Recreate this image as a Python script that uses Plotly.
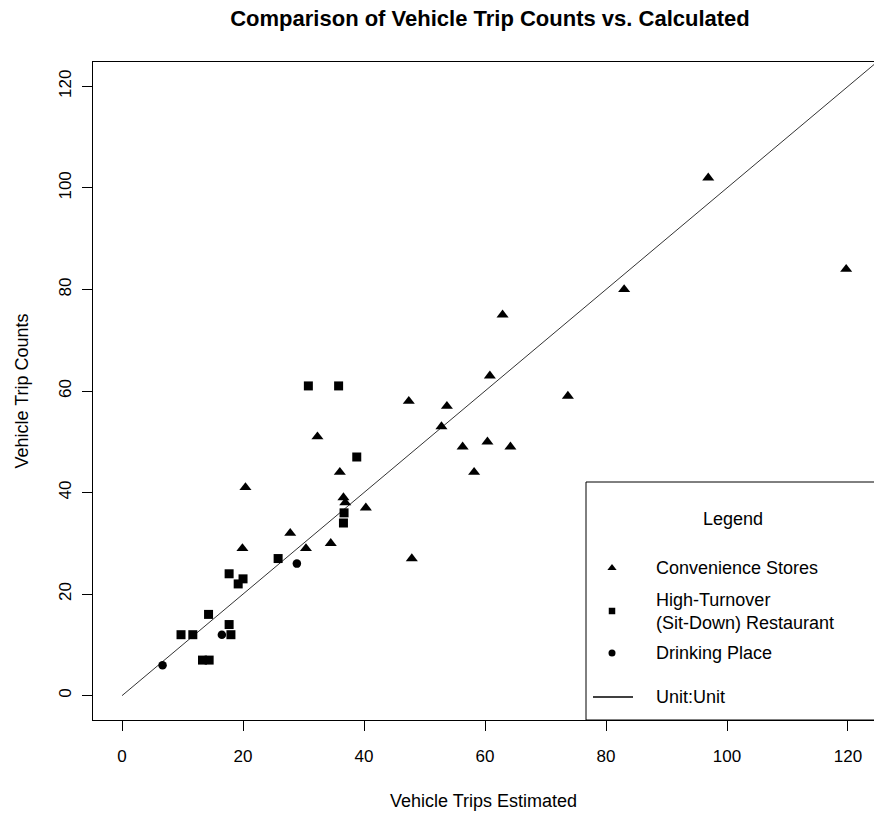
import plotly.graph_objects as go

# Convenience stores: estimated trips vs counted trips
conv_est = [96.9, 119.7, 83.0, 62.9, 60.8, 73.7, 47.4, 53.7, 52.8, 32.3, 56.3, 60.4,
            64.2, 58.2, 36.0, 20.4, 36.6, 36.9, 40.3, 27.8, 34.5, 30.4, 19.9, 47.9]
conv_cnt = [102, 84, 80, 75, 63, 59, 58, 57, 53, 51, 49, 50,
            49, 44, 44, 41, 39, 38, 37, 32, 30, 29, 29, 27]

# High-turnover (sit-down) restaurants
rest_est = [30.8, 35.8, 38.8, 36.7, 36.6, 25.8, 17.7, 20.0, 19.2, 14.3, 9.75, 11.7,
            17.7, 18.0, 13.3, 14.4]
rest_cnt = [61, 61, 47, 36, 34, 27, 24, 23, 22, 16, 12, 12,
            14, 12, 7, 7]

# Drinking places
drink_est = [6.7, 16.5, 28.9]
drink_cnt = [6, 12, 26]

# Unit:Unit reference line
unit_line = [0, 130]

legend_labels = ["Convenience Stores", "High-Turnover<br>(Sit-Down) Restaurant",
                 "Drinking Place", "Unit:Unit"]

FONT = "Liberation Sans, Arial, sans-serif"
W, H = 874, 814
L, R, T, B = 93, 0, 62, 94

fig = go.Figure()

fig.add_trace(go.Scatter(x=unit_line, y=unit_line, mode="lines",
                         line=dict(color="#333333", width=1), showlegend=False,
                         hoverinfo="skip"))
fig.add_trace(go.Scatter(x=conv_est, y=conv_cnt, mode="markers", name="Convenience Stores",
                         marker=dict(symbol="triangle-up", size=10.5, color="black"),
                         showlegend=False))
fig.add_trace(go.Scatter(x=rest_est, y=rest_cnt, mode="markers",
                         name="High-Turnover (Sit-Down) Restaurant",
                         marker=dict(symbol="square", size=9, color="black"),
                         showlegend=False))
fig.add_trace(go.Scatter(x=drink_est, y=drink_cnt, mode="markers", name="Drinking Place",
                         marker=dict(symbol="circle", size=8.5, color="black"),
                         showlegend=False))

# Legend panel drawn on a pixel-space overlay axis pair
leg_x_sym = 612
leg_x_txt = 654
leg_rows = [568, 611, 653, 697]
fig.add_shape(type="rect", xref="x2", yref="y2", x0=586, x1=890, y0=482, y1=720,
              line=dict(color="black", width=1), fillcolor="white", layer="below")
fig.add_trace(go.Scatter(x=[leg_x_sym], y=[leg_rows[0]], xaxis="x2", yaxis="y2",
                         mode="markers", marker=dict(symbol="triangle-up", size=8, color="black"),
                         showlegend=False, hoverinfo="skip", cliponaxis=False))
fig.add_trace(go.Scatter(x=[leg_x_sym], y=[leg_rows[1]], xaxis="x2", yaxis="y2",
                         mode="markers", marker=dict(symbol="square", size=6.5, color="black"),
                         showlegend=False, hoverinfo="skip", cliponaxis=False))
fig.add_trace(go.Scatter(x=[leg_x_sym], y=[leg_rows[2]], xaxis="x2", yaxis="y2",
                         mode="markers", marker=dict(symbol="circle", size=7, color="black"),
                         showlegend=False, hoverinfo="skip", cliponaxis=False))
fig.add_trace(go.Scatter(x=[593, 633], y=[leg_rows[3], leg_rows[3]], xaxis="x2", yaxis="y2",
                         mode="lines", line=dict(color="black", width=1.5),
                         showlegend=False, hoverinfo="skip", cliponaxis=False))

fig.add_annotation(x=733, y=519, xref="x2", yref="y2", text="Legend", showarrow=False,
                   xanchor="center", yanchor="middle", font=dict(family=FONT, size=18, color="black"))
for lab, yy in zip(legend_labels, leg_rows):
    fig.add_annotation(x=leg_x_txt, y=yy, xref="x2", yref="y2", text=lab, showarrow=False,
                       xanchor="left", yanchor="middle", align="left",
                       font=dict(family=FONT, size=18, color="black"))

fig.update_layout(
    width=W, height=H,
    margin=dict(l=L, r=R, t=T, b=B, pad=0),
    paper_bgcolor="white", plot_bgcolor="white",
    font=dict(family=FONT, size=18, color="black"),
    title=dict(text="<b>Comparison of Vehicle Trip Counts vs. Calculated</b>",
               x=490 / W, xref="container", xanchor="center",
               y=1 - 18 / H, yref="container", yanchor="middle",
               font=dict(family=FONT, size=22, color="black")),
    xaxis=dict(range=[-4.8, 124.3], tickvals=[0, 20, 40, 60, 80, 100, 120],
               showgrid=False, zeroline=False, showline=True, linecolor="black",
               linewidth=1, mirror=True, ticks="outside", ticklen=10, tickwidth=1,
               tickcolor="black", ticklabelstandoff=11,
               tickfont=dict(family=FONT, size=17, color="black"),
               title=dict(text="Vehicle Trips Estimated", standoff=28,
                          font=dict(family=FONT, size=18, color="black"))),
    yaxis=dict(range=[-4.8, 124.8], tickvals=[0, 20, 40, 60, 80, 100, 120],
               showgrid=False, zeroline=False, showline=True, linecolor="black",
               linewidth=1, ticks="outside", ticklen=10, tickwidth=1,
               tickcolor="black", tickangle=-90, ticklabelstandoff=4,
               tickfont=dict(family=FONT, size=17, color="black"),
               title=dict(text="Vehicle Trip Counts", standoff=22,
                          font=dict(family=FONT, size=18, color="black"))),
    xaxis2=dict(range=[L, W - R], overlaying="x", visible=False, fixedrange=True),
    yaxis2=dict(range=[H - B, T], overlaying="y", visible=False, fixedrange=True),
)

fig.write_html("out.html")
